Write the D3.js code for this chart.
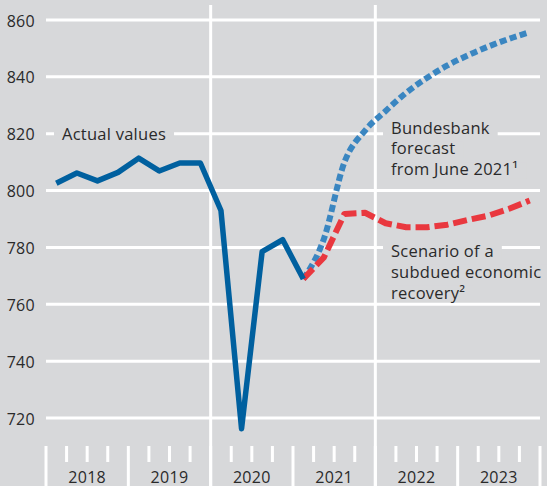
<!DOCTYPE html>
<html>
<head>
<meta charset="utf-8">
<script src="https://cdn.jsdelivr.net/npm/d3@7"></script>
<style>
body { margin: 0; background: #d7d8da; }
svg { display: block; }
</style>
</head>
<body>
<div id="chart"></div>
<script>
var width = 547,
    height = 486;

// quarterly data, index 0 = 2018 Q1
var years = ["2018", "2019", "2020", "2021", "2022", "2023"];
var yTicks = [720, 740, 760, 780, 800, 820, 840, 860];
var actual = [802.6, 806.2, 803.4, 806.4, 811.4, 806.9, 809.7, 809.7, 793.0, 716.2, 778.5, 782.7, 768.9];
var forecast = [768.9, 783.0, 810.0, 821.1, 828.0, 834.4, 839.6, 844.0, 847.6, 850.7, 853.4, 855.7];
var scenario = [768.9, 776.5, 791.8, 792.2, 788.5, 787.1, 787.1, 788.0, 789.7, 791.2, 793.6, 796.5];
var forecastStart = 12; // 2021 Q1

var bg = "#d7d8da",
    textCol = "#2a2a2a";

var svg = d3.select("#chart").append("svg")
    .attr("width", width)
    .attr("height", height)
    .style("font-family", "'Open Sans', sans-serif");

svg.append("rect").attr("width", width).attr("height", height).attr("fill", bg);

var x = d3.scaleLinear().domain([0, years.length * 4]).range([46, 540]);
var y = d3.scaleLinear().domain([720, 860]).range([418, 20]);

// horizontal grid
svg.append("g").selectAll("line")
    .data(yTicks)
    .enter().append("line")
    .attr("x1", x(0)).attr("x2", x(24))
    .attr("y1", function(d){ return y(d); })
    .attr("y2", function(d){ return y(d); })
    .attr("stroke", "#fff")
    .attr("stroke-width", 3);

svg.append("g").selectAll("text")
    .data(yTicks)
    .enter().append("text")
    .attr("x", 35)
    .attr("y", function(d){ return y(d) + 6.5; })
    .attr("text-anchor", "end")
    .attr("font-size", "16px")
    .attr("letter-spacing", "0.3px")
    .attr("fill", textCol)
    .text(function(d){ return d; });

// full-height year separators
[8, 16].forEach(function(q){
    svg.append("line")
        .attr("x1", x(q)).attr("x2", x(q))
        .attr("y1", 5).attr("y2", height)
        .attr("stroke", "#fff").attr("stroke-width", 3);
});

// quarter ticks along the bottom
var qs = d3.range(0, 25);
svg.append("g").selectAll("line")
    .data(qs)
    .enter().append("line")
    .attr("x1", function(d){ return x(d); })
    .attr("x2", function(d){ return x(d); })
    .attr("y1", 446)
    .attr("y2", function(d){ return d % 4 == 0 ? height : 462; })
    .attr("stroke", "#fff")
    .attr("stroke-width", 3);

svg.append("g").selectAll("text")
    .data(years)
    .enter().append("text")
    .attr("x", function(d, i){ return x(i * 4 + 2); })
    .attr("y", 482.5)
    .attr("text-anchor", "middle")
    .attr("font-size", "16px")
    .attr("letter-spacing", "0.3px")
    .attr("fill", textCol)
    .text(function(d){ return d; });

// labels: one text with a tspan per line, each line on a bg box that cuts the grid
function label(lines, lx, ly, lh){
    var g = svg.append("g");
    var t = g.append("text")
        .attr("font-size", "16.5px")
        .attr("letter-spacing", "0.25px")
        .attr("fill", textCol);
    lines.forEach(function(s, i){
        var sp = t.append("tspan")
            .attr("x", lx)
            .attr("y", ly + i * lh)
            .text(s);
        var w = sp.node().getComputedTextLength();
        g.insert("rect", "text")
            .attr("x", lx - 8)
            .attr("y", ly + i * lh - 13)
            .attr("width", w + 16)
            .attr("height", 16)
            .attr("fill", bg);
    });
}
label(["Actual values"], 62, 140, 0);
label(["Bundesbank", "forecast", "from June 2021\u00b9"], 391, 133.5, 20.8);
label(["Scenario of a", "subdued economic", "recovery\u00b2"], 391, 257, 20.8);

// lines
var lineLin = d3.line()
    .x(function(d){ return x(d[0] + 0.5); })
    .y(function(d){ return y(d[1]); });
var lineSmooth = d3.line()
    .curve(d3.curveMonotoneX)
    .x(function(d){ return x(d[0] + 0.5); })
    .y(function(d){ return y(d[1]); });

function pts(arr, start){
    return arr.map(function(v, i){ return [start + i, v]; });
}

svg.append("path")
    .attr("d", lineSmooth(pts(forecast, forecastStart)))
    .attr("fill", "none")
    .attr("stroke", "#3a86c1")
    .attr("stroke-width", 6)
    .attr("stroke-dasharray", "7,3.5");

svg.append("path")
    .attr("d", lineLin(pts(scenario, forecastStart)))
    .attr("fill", "none")
    .attr("stroke", "#e9383f")
    .attr("stroke-width", 6)
    .attr("stroke-linejoin", "round")
    .attr("stroke-dasharray", "14,5");

svg.append("path")
    .attr("d", lineLin(pts(actual, 0)))
    .attr("fill", "none")
    .attr("stroke", "#00609f")
    .attr("stroke-width", 5.5)
    .attr("stroke-linejoin", "round");
</script>
</body>
</html>
